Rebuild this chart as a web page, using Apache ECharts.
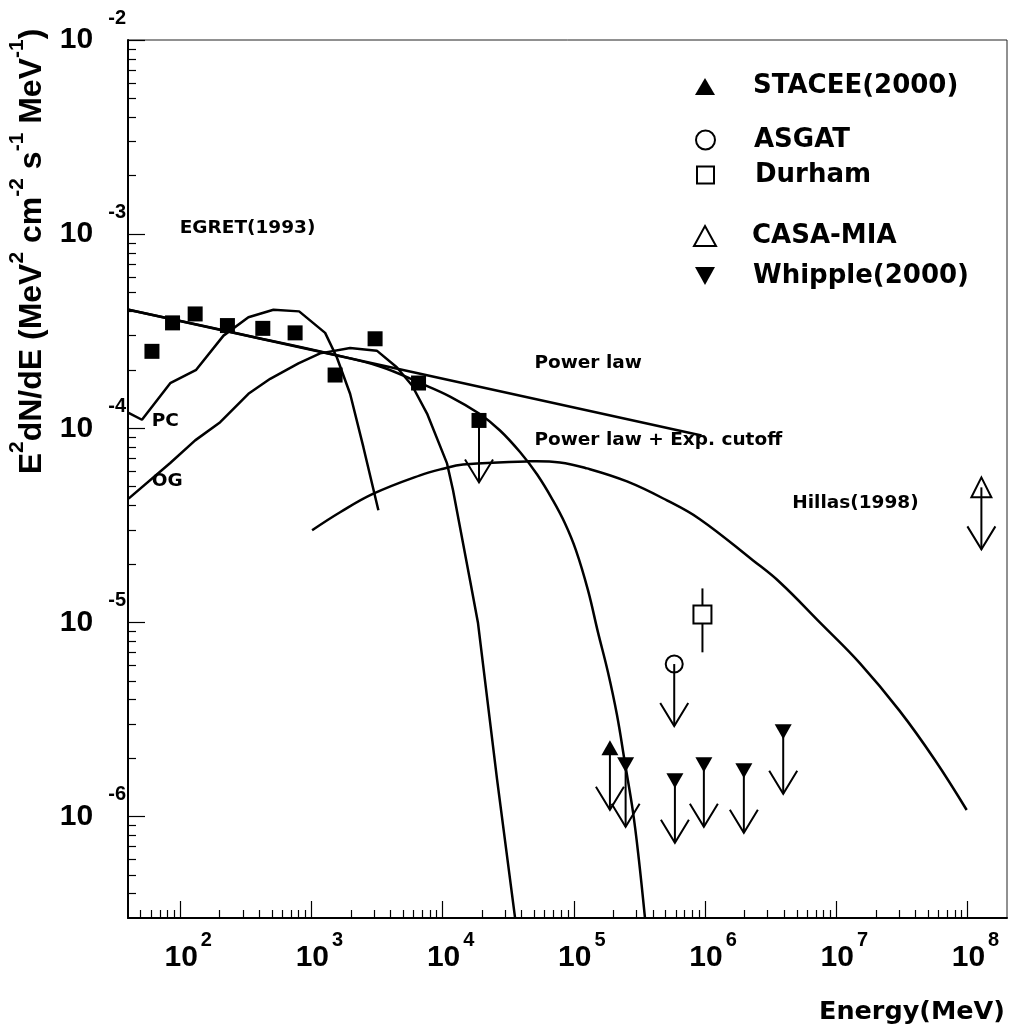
<!DOCTYPE html>
<html><head><meta charset="utf-8">
<script src="https://cdn.jsdelivr.net/npm/echarts@6/dist/echarts.min.js"></script>
<style>html,body{margin:0;padding:0;background:#fff}#chart{width:1009px;height:1035px}</style>
</head><body><div id="chart"></div>
<script>
// ---------------- data ----------------
const xRange = [40, 2e8];
const yRange = [3e-7, 1e-2];
const xMajorTicks = [1e2, 1e3, 1e4, 1e5, 1e6, 1e7, 1e8];
const yMajorTicks = [1e-6, 1e-5, 1e-4, 1e-3, 1e-2];

const egret = [[60.9, 2.49e-4], [87.4, 3.49e-4], [130, 3.88e-4], [229, 3.38e-4], [426, 3.27e-4],
               [751, 3.10e-4], [1515, 1.88e-4], [3056, 2.89e-4], [6551, 1.71e-4]];
const egretUpperLimit = [[1.893e4, 1.097e-4]];
const stacee = [[1.883e5, 2.258e-6]];
const asgat = [[5.82e5, 6.10e-6]];
const durham = [[9.55e5, 1.099e-5]];
const durhamError = [[9.55e5, 7.01e-6, 1.496e-5]];
const casaMia = [[1.276e8, 4.96e-5]];
const whipple = [[2.48e5, 1.846e-6], [5.89e5, 1.528e-6], [9.79e5, 1.846e-6], [1.975e6, 1.72e-6], [3.94e6, 2.73e-6]];

const powerLaw = [[40.4, 4.08e-4], [9.40e5, 9.18e-5]];
const powerLawCutoff = [[40.4, 4.08e-4], [341, 2.98e-4], [1388, 2.42e-4], [3336, 2.08e-4], [6727, 1.71e-4],
  [1.139e4, 1.457e-4], [1.894e4, 1.19e-4], [2.736e4, 9.74e-5], [3.886e4, 7.54e-5], [5.236e4, 5.79e-5],
  [6.93e4, 4.25e-5], [8.55e4, 3.24e-5], [1.038e5, 2.35e-5], [1.281e5, 1.466e-5], [1.526e5, 8.91e-6],
  [1.818e5, 5.55e-6], [2.13e5, 3.34e-6], [2.45e5, 1.89e-6], [2.82e5, 1.06e-6], [3.13e5, 6.0e-7],
  [3.48e5, 3.02e-7]];
const pcModel = [[40.4, 1.201e-4], [51.1, 1.106e-4], [83.9, 1.706e-4], [132.4, 2.0e-4], [213.7, 3.0e-4],
  [331, 3.73e-4], [513.5, 4.08e-4], [806, 4.0e-4], [1272, 3.10e-4], [1561, 2.32e-4], [1971, 1.505e-4],
  [2489, 7.99e-5], [3238, 3.78e-5]];
const ogModel = [[40.4, 4.34e-5], [83.9, 6.62e-5], [130, 8.66e-5], [201.7, 1.075e-4], [331, 1.505e-4],
  [485, 1.797e-4], [796, 2.16e-4], [1165, 2.43e-4], [1971, 2.59e-4], [3149, 2.51e-4], [4471, 2.06e-4],
  [5848, 1.66e-4], [7606, 1.19e-4], [1.08e4, 6.59e-5], [1.2e4, 4.79e-5], [1.617e4, 1.65e-5],
  [1.86e4, 9.92e-6], [2.6e4, 1.55e-6], [3.56e4, 3.02e-7]];
const hillas = [[1012, 2.98e-5], [1654, 3.69e-5], [2966, 4.6e-5], [6727, 5.72e-5], [1.01e4, 6.19e-5],
  [1.43e4, 6.5e-5], [4.39e4, 6.75e-5], [7.83e4, 6.67e-5], [1.26e5, 6.21e-5], [2.54e5, 5.32e-5],
  [5.12e5, 4.25e-5], [9.13e5, 3.40e-5], [2.31e6, 2.09e-5], [3.71e6, 1.61e-5], [7.49e6, 1.0e-5],
  [1.51e7, 6.17e-6], [3.04e7, 3.5e-6], [5.63e7, 1.96e-6], [9.86e7, 1.08e-6]];

const annotationTexts = ['EGRET(1993)', 'PC', 'OG', 'Power law', 'Power law + Exp. cutoff', 'Hillas(1998)'];
const annotationAnchors = [[100, 1.065e-3], [61.2, 1.084e-4], [61.2, 5.33e-5], [5.05e4, 2.15e-4], [5.05e4, 8.66e-5], [4.66e6, 4.11e-5]];

const legendNames = ['STACEE(2000)', 'ASGAT', 'Durham', 'CASA-MIA', 'Whipple(2000)'];

// ---------------- layout / style ----------------
const F = "'Liberation Sans', Arial, Helvetica, sans-serif";
const FW = "'DejaVu Sans', 'Liberation Sans', Arial, sans-serif";
const DOWN_TRI = 'path://M0,0L2,0L1,2Z';
const legendLayout = [
  { top: 73.5, left: 695, w: 20, h: 17, icon: 'triangle', open: false },
  { top: 127, left: 695, w: 19, h: 19, icon: 'circle', open: true },
  { top: 162, left: 696, w: 17, h: 17, icon: 'rect', open: true },
  { top: 223, left: 693, w: 22, h: 20, icon: 'triangle', open: true },
  { top: 263, left: 695, w: 20, h: 18, icon: DOWN_TRI, open: false }
];
const ARROW = { len: 62, hw: 14, hh: 23 };

function minorTicks(lo, hi, e0, e1) {
  const out = [];
  for (let e = e0; e <= e1; e++) for (let m = 2; m <= 9; m++) {
    const v = m * Math.pow(10, e);
    if (v > lo * 1.0001 && v < hi * 0.9999) out.push(v);
  }
  return out;
}

const expLabel = v => '{b|10}{e|' + Math.round(Math.log10(v)) + '}';
const txt = (size, fam) => ({ fontSize: size, fontWeight: 'bold', fontFamily: fam || F, color: '#000', opacity: 1 });

const axisBase = (min, max) => ({ type: 'log', logBase: 10, min, max, splitLine: { show: false }, splitArea: { show: false }, nameMoveOverlap: false });

const chart = echarts.init(document.getElementById('chart'), null, { renderer: 'canvas' });

const upperLimits = [...egretUpperLimit, ...stacee, ...asgat, ...casaMia, ...whipple];

const lineSeries = (name, data) => ({
  type: 'line', name, data, smooth: false, symbol: 'none', z: 2, silent: true,
  lineStyle: { color: '#000', width: 2.5, opacity: 1 }, xAxisIndex: 0, yAxisIndex: 0
});
// smooth model curve: every point projected through the axes with api.coord, joined by an unconstrained bezier spline
const curveSeries = (name, data, smooth) => ({
  type: 'custom', name, data, z: 2, silent: true, clip: true,
  encode: { x: 0, y: 1 },
  renderItem: (params, api) => {
    if (params.dataIndex !== 0) return null;
    const pts = data.map(d => api.coord(d));
    return { type: 'polyline', shape: { points: pts, smooth }, style: { stroke: '#000', lineWidth: 2.5, fill: null } };
  }
});
const scatterSeries = (name, data, symbol, size, itemStyle) => ({
  type: 'scatter', name, data, symbol, symbolSize: size, z: 4, silent: true,
  itemStyle: Object.assign({ opacity: 1 }, itemStyle)
});
const OPEN = { color: 'rgba(0,0,0,0)', borderColor: '#000', borderWidth: 2 };
const FILLED = { color: '#000' };

const option = {
  animation: false,
  backgroundColor: '#fff',
  grid: { left: 128, right: 2, top: 40, bottom: 117, show: true, borderColor: '#222', borderWidth: 1, backgroundColor: 'transparent', outerBoundsMode: 'none', containLabel: false },
  legend: legendNames.map((name, i) => {
    const L = legendLayout[i];
    return {
      data: [{ name, icon: L.icon }], left: L.left, top: L.top, padding: 0, itemGap: 0,
      itemWidth: L.w, itemHeight: L.h, selectedMode: false, symbolKeepAspect: false,
      itemStyle: L.open ? Object.assign({ opacity: 1 }, OPEN) : { color: '#000', borderWidth: 0, opacity: 1 },
      textStyle: Object.assign(txt(26, FW), { padding: [0, 0, 0, 53 - L.w] })
    };
  }),
  xAxis: [
    Object.assign(axisBase(xRange[0], xRange[1]), {
      position: 'bottom', name: 'Energy(MeV)', nameLocation: 'end', nameGap: -2,
      nameTextStyle: Object.assign(txt(25.5, FW), { align: 'right', verticalAlign: 'top', padding: [81, 0, 0, 0] }),
      axisLine: { lineStyle: { color: '#000', width: 2 } },
      axisTick: { inside: true, length: 17, customValues: xMajorTicks, lineStyle: { color: '#000', width: 1.2 } },
      axisLabel: {
        customValues: xMajorTicks, margin: 25, formatter: expLabel,
        rich: { b: Object.assign(txt(30), { lineHeight: 30, padding: [0, 0, 0, 16] }), e: Object.assign(txt(20), { lineHeight: 20, padding: [0, 0, 36, 3] }) }
      }
    }),
    Object.assign(axisBase(xRange[0], xRange[1]), {
      position: 'bottom', axisLine: { show: false },
      axisTick: { inside: true, length: 8, customValues: minorTicks(xRange[0], xRange[1], 1, 8), lineStyle: { color: '#000', width: 1.2 } },
      axisLabel: { show: false }
    })
  ],
  yAxis: [
    Object.assign(axisBase(yRange[0], yRange[1]), {
      position: 'left',
      name: '{b|E}{s|2}{b|dN/dE (MeV}{s|2}{b| cm}{s|-2}{b| s}{s|-1}{b| MeV}{s|-1}{b|)}',
      nameLocation: 'middle', nameRotate: 90, nameGap: 78,
      nameTextStyle: {
        padding: [0, 0, 0, 455],
        rich: { b: Object.assign(txt(32), { lineHeight: 36 }), s: Object.assign(txt(21), { lineHeight: 23, padding: [0, 0, 30, 0] }) }
      },
      axisLine: { lineStyle: { color: '#000', width: 2 } },
      axisTick: { inside: true, length: 17, customValues: yMajorTicks, lineStyle: { color: '#000', width: 1.2 } },
      axisLabel: {
        customValues: yMajorTicks, margin: 2, formatter: expLabel,
        rich: { b: Object.assign(txt(30), { lineHeight: 30, padding: [0, 15, 0, 0] }), e: Object.assign(txt(20), { lineHeight: 20, padding: [0, 0, 44, 0] }) }
      }
    }),
    Object.assign(axisBase(yRange[0], yRange[1]), {
      position: 'left', axisLine: { show: false },
      axisTick: { inside: true, length: 8, customValues: minorTicks(yRange[0], yRange[1], -7, -3), lineStyle: { color: '#000', width: 1.2 } },
      axisLabel: { show: false }
    })
  ],
  series: [
    lineSeries('Power law', powerLaw),
    curveSeries('Power law + Exp. cutoff', powerLawCutoff, 0.4),
    lineSeries('PC', pcModel),
    lineSeries('OG', ogModel),
    curveSeries('Hillas(1998)', hillas, 0.4),
    {
      type: 'custom', name: 'Durham error', data: durhamError, z: 3, silent: true,
      encode: { x: 0, y: [1, 2] },
      renderItem: (params, api) => {
        const a = api.coord([api.value(0), api.value(1)]);
        const b = api.coord([api.value(0), api.value(2)]);
        return { type: 'line', shape: { x1: a[0], y1: a[1], x2: b[0], y2: b[1] }, style: { stroke: '#000', lineWidth: 2 } };
      }
    },
    {
      type: 'custom', name: 'upper limits', data: upperLimits, z: 3, silent: true,
      encode: { x: 0, y: 1 },
      renderItem: (params, api) => {
        const p = api.coord([api.value(0), api.value(1)]);
        const ty = p[1] + ARROW.len;
        return {
          type: 'group', children: [
            { type: 'line', shape: { x1: p[0], y1: p[1], x2: p[0], y2: ty }, style: { stroke: '#000', lineWidth: 2 } },
            { type: 'polyline', shape: { points: [[p[0] - ARROW.hw, ty - ARROW.hh], [p[0], ty], [p[0] + ARROW.hw, ty - ARROW.hh]] }, style: { stroke: '#000', lineWidth: 2, fill: null } }
          ]
        };
      }
    },
    scatterSeries('EGRET(1993)', egret.concat(egretUpperLimit), 'rect', 15, FILLED),
    scatterSeries('STACEE(2000)', stacee, 'triangle', [17, 15], FILLED),
    scatterSeries('ASGAT', asgat, 'circle', 17, OPEN),
    scatterSeries('Durham', durham, 'rect', 18, { color: '#fff', borderColor: '#000', borderWidth: 2 }),
    scatterSeries('CASA-MIA', casaMia, 'triangle', [20, 20], OPEN),
    scatterSeries('Whipple(2000)', whipple, DOWN_TRI, [17, 15], FILLED),
    {
      type: 'scatter', name: 'annotations', silent: true, z: 5, symbolSize: 1, itemStyle: { color: 'rgba(0,0,0,0)', opacity: 1 },
      data: annotationAnchors.map((a, i) => ({ value: a, name: annotationTexts[i] })),
      label: Object.assign(txt(18.5, FW), { show: true, position: [0, 0], align: 'left', verticalAlign: 'middle', formatter: p => p.name })
    }
  ]
};
chart.setOption(option);
</script>
</body></html>
